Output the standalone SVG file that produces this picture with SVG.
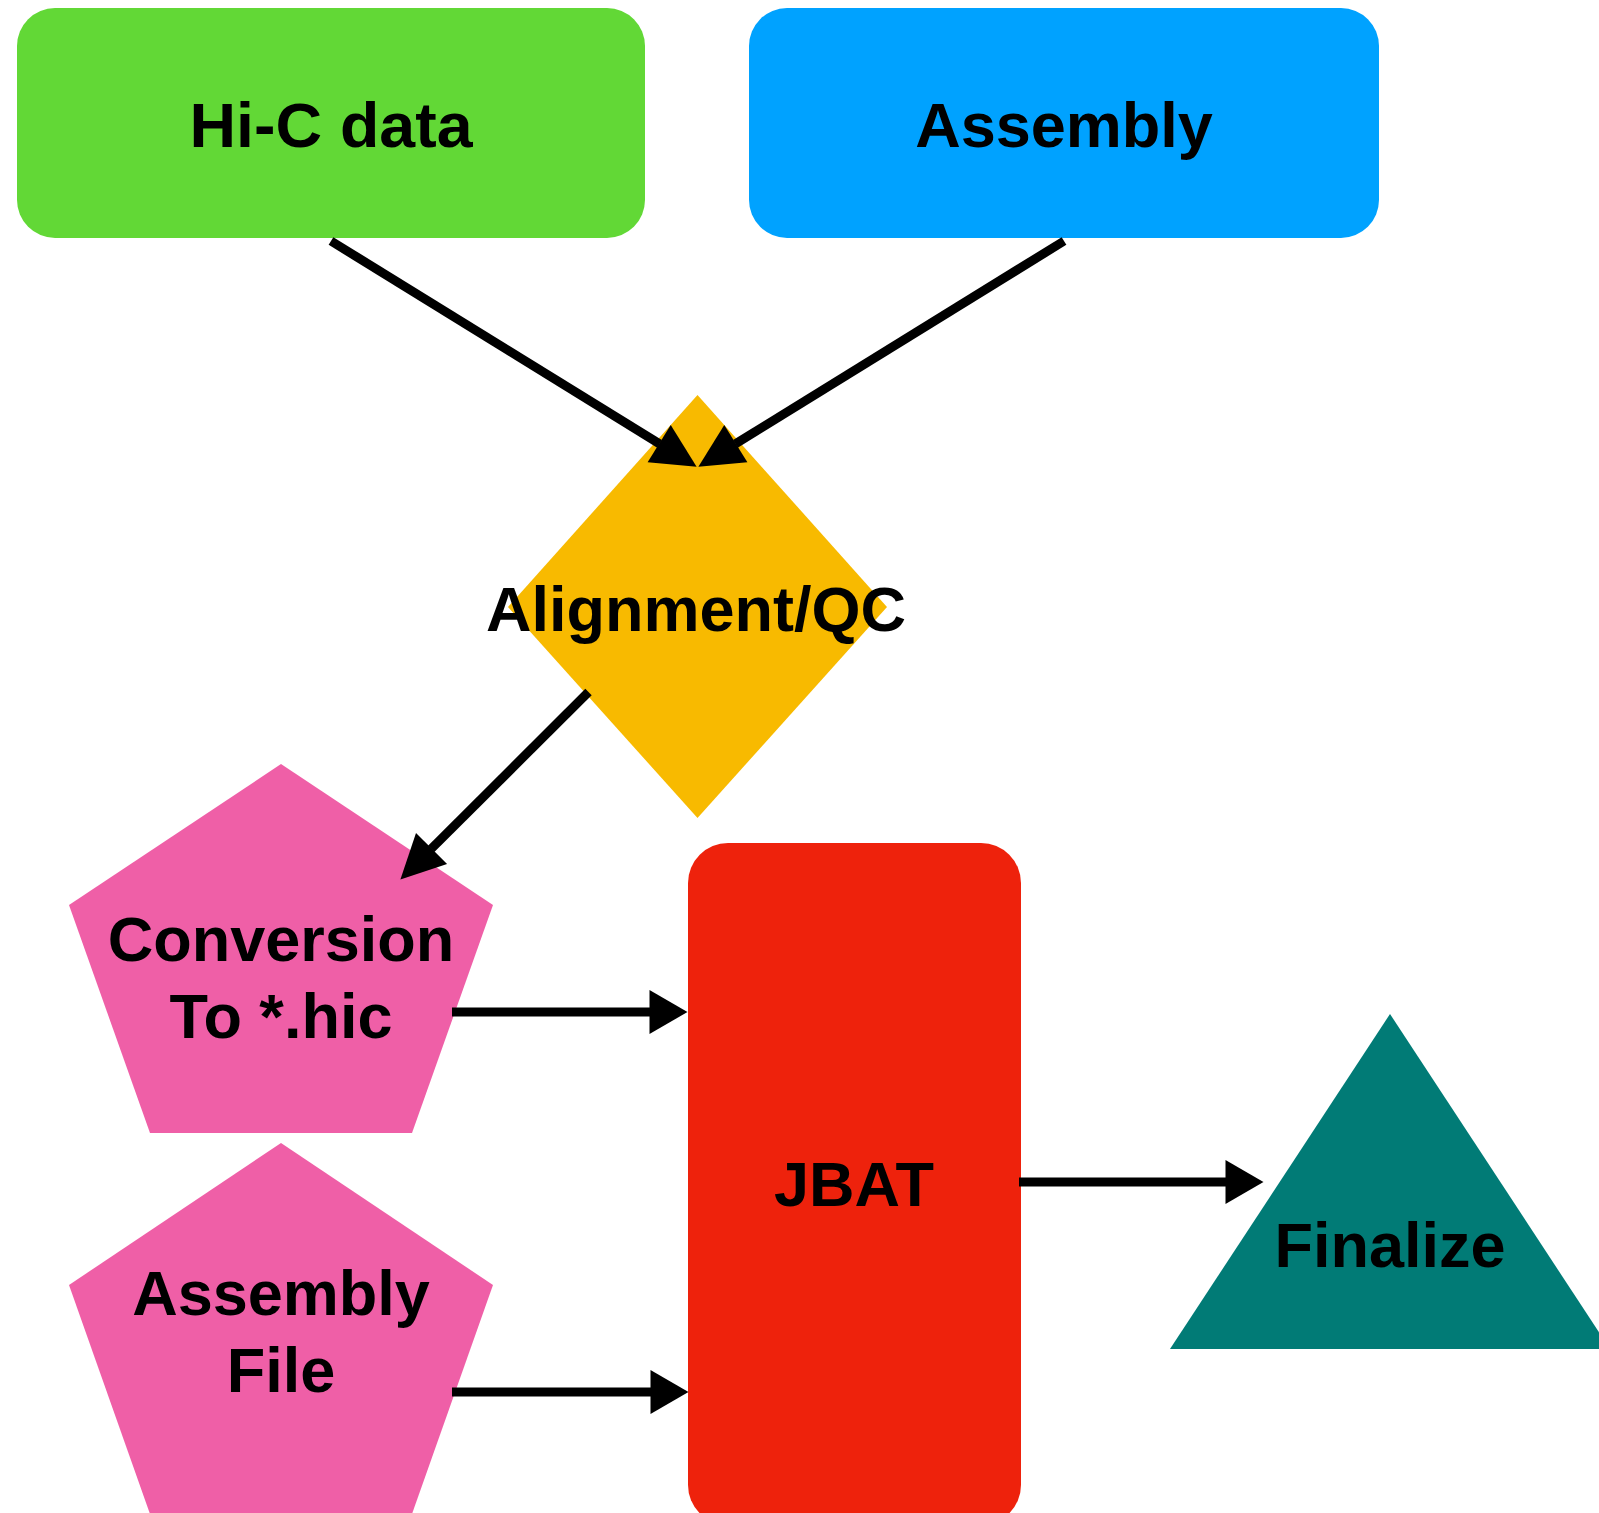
<svg xmlns="http://www.w3.org/2000/svg" width="1599" height="1513" viewBox="0 0 1599 1513">
<style>
.lbl{font-family:"Liberation Sans",Arial,Helvetica,sans-serif;font-weight:bold;font-size:63px;fill:#000;text-anchor:middle}
.conn{stroke:#000;stroke-width:9;fill:none;stroke-linecap:butt}
</style>
<defs>
<marker id="ah" markerUnits="userSpaceOnUse" markerWidth="46" markerHeight="46" viewBox="0 0 46 46" refX="0.5" refY="23" orient="auto" overflow="visible">
<path d="M0,1 L44,23 L0,45 Z" fill="#000"/>
</marker>
<marker id="ah2" markerUnits="userSpaceOnUse" markerWidth="40" markerHeight="46" viewBox="0 0 40 46" refX="0.5" refY="23" orient="auto" overflow="visible">
<path d="M0,1 L38,23 L0,45 Z" fill="#000"/>
</marker>
</defs>
<rect width="1599" height="1513" fill="#fff"/>
<g id="hic">
<rect x="17" y="8" width="628" height="230" rx="38" ry="38" fill="#62D836"/>
<text class="lbl" x="331" y="147" textLength="283" lengthAdjust="spacingAndGlyphs">Hi-C data</text>
</g>
<g id="assembly">
<rect x="749" y="8" width="630" height="230" rx="38" ry="38" fill="#00A2FF"/>
<text class="lbl" x="1064" y="147">Assembly</text>
</g>
<g id="alignment">
<polygon points="697.5,395 887,607 697.5,818 508,607" fill="#F8BA00"/>
<text class="lbl" x="696" y="631">Alignment/QC</text>
</g>
<g id="conversion">
<polygon points="281,764 493,905 412,1133 150,1133 69,905" fill="#EF5FA7"/>
<text class="lbl" x="281" y="961">Conversion</text>
<text class="lbl" x="281" y="1038">To *.hic</text>
</g>
<g id="assemblyfile">
<polygon points="281,1143 493,1285 412,1514 150,1514 69,1285" fill="#EF5FA7"/>
<text class="lbl" x="281" y="1315">Assembly</text>
<text class="lbl" x="281" y="1392">File</text>
</g>
<g id="jbat">
<rect x="688" y="843" width="333" height="682" rx="40" ry="40" fill="#EE220C"/>
<text class="lbl" x="854" y="1206">JBAT</text>
</g>
<g id="finalize">
<polygon points="1390,1014 1610,1349 1170,1349" fill="#017B76"/>
<text class="lbl" x="1390" y="1267">Finalize</text>
</g>
<g id="connectors">
<line class="conn" x1="331" y1="241" x2="659.6" y2="443.9" marker-end="url(#ah)"/>
<line class="conn" x1="1064" y1="241" x2="735.4" y2="443.9" marker-end="url(#ah)"/>
<line class="conn" x1="588.5" y1="692" x2="431.2" y2="848.9" marker-end="url(#ah)"/>
<line class="conn" x1="452" y1="1012" x2="650" y2="1012" marker-end="url(#ah2)"/>
<line class="conn" x1="452" y1="1392" x2="651" y2="1392" marker-end="url(#ah2)"/>
<line class="conn" x1="1019" y1="1182" x2="1226" y2="1182" marker-end="url(#ah2)"/>
</g>
</svg>
